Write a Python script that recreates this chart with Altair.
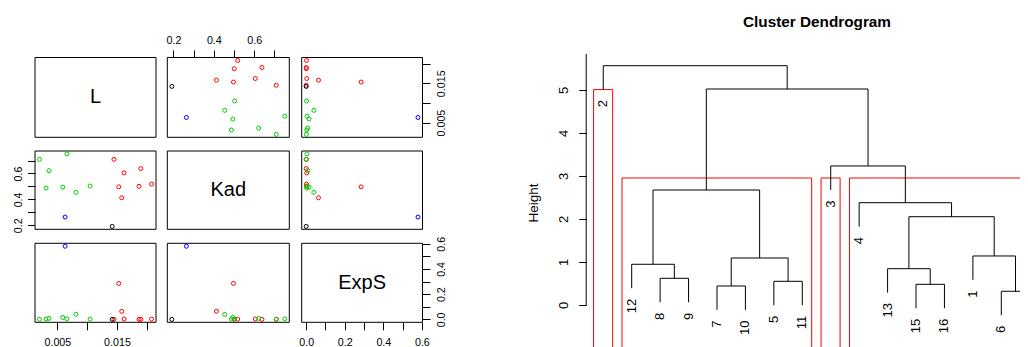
import json
import altair as alt
import pandas as pd

# ---------------- data: scatterplot matrix (pairs) ----------------
VARS = ["L", "Kad", "ExpS"]
group = [2, 2, 2, 2, 2, 2, 2, 1, 3, 3, 4, 3, 3, 3, 3, 3]
L_vals = [0.0208, 0.0187, 0.0190, 0.0158, 0.0153, 0.0162, 0.0145, 0.0142,
          0.0105, 0.0081, 0.0063, 0.0059, 0.0066, 0.0031, 0.0036, 0.0020]
Kad_vals = [0.518, 0.501, 0.638, 0.413, 0.497, 0.605, 0.709, 0.192,
            0.503, 0.454, 0.264, 0.494, 0.751, 0.487, 0.622, 0.709]
ExpS_vals = [0.002, 0.001, 0.000, 0.064, 0.285, 0.003, 0.000, 0.000,
             0.002, 0.040, 0.580, 0.015, 0.004, 0.003, 0.008, 0.001]
group_ids = [1, 2, 3, 4]
group_colors = ["#000000", "#FF0000", "#00CD00", "#0000FF"]

L_ticks = [0.005, 0.010, 0.015, 0.020]
L_labels = [0.005, 0.015]
Kad_ticks = [0.2, 0.3, 0.4, 0.5, 0.6, 0.7]
Kad_labels = [0.2, 0.4, 0.6]
ExpS_ticks = [0.0, 0.1, 0.2, 0.3, 0.4, 0.5, 0.6]
ExpS_labels = [0.0, 0.2, 0.4, 0.6]

# ---------------- data: dendrogram ----------------
leaf_order = [2, 12, 8, 9, 7, 10, 5, 11, 3, 4, 13, 15, 16, 1, 6, 14]
merge_a = [-6, -7, -15, -5, -8, -13, -12, 2, -1, 6, -4, 7, -3, 12, -2]
merge_b = [-14, -10, -16, -11, -9, 3, 5, 4, 1, 9, 10, 8, 11, 13, 14]
merge_h = [0.319, 0.442, 0.481, 0.551, 0.621, 0.844, 0.947, 1.093, 1.140,
           2.053, 2.379, 2.674, 3.233, 5.023, 5.565]
cluster_sizes = [1, 7, 1, 7]
cluster_rect_top = [5.01, 2.953, 2.953, 2.953]
height_ticks = [0, 1, 2, 3, 4, 5]

# ---------------- layout ----------------
W, H = 1012, 339
FONT = "Liberation Sans"
COL_PX = [(27.0, 148.0), (159.3, 281.3), (293.7, 414.5)]      # left, right
ROW_PX = [(49.5, 129.3), (143.0, 221.3), (235.3, 314.3)]      # top, bottom
DEN_XLIM = (0.4, 16.6)
DEN_X_PX = (578.2, 1038.8)
DEN_YLIM = (-1.235, 5.837)
DEN_Y_PX = (350.1, 46.0)
TICK = 7.5


def ext(v):
    lo, hi = min(v), max(v)
    r = hi - lo
    return [lo - 0.04 * r, hi + 0.04 * r]


DOM = {"L": ext(L_vals), "Kad": ext(Kad_vals), "ExpS": ext(ExpS_vals)}
TICKS = {"L": (L_ticks, L_labels, ".3f"),
         "Kad": (Kad_ticks, Kad_labels, ".1f"),
         "ExpS": (ExpS_ticks, ExpS_labels, ".1f")}

pts = pd.DataFrame({"L": L_vals, "Kad": Kad_vals, "ExpS": ExpS_vals, "grp": group})


def xs(var, j):
    return alt.Scale(domain=DOM[var], range=[COL_PX[j][0], COL_PX[j][1]], nice=False, zero=False)


def ys(var, i):
    return alt.Scale(domain=DOM[var], range=[ROW_PX[i][1], ROW_PX[i][0]], nice=False, zero=False)


def pair_axis(var, orient, offset):
    ticks, labs, fmt = TICKS[var]
    side = orient in ("left", "right")
    base = {"top": "bottom", "bottom": "top", "left": "bottom", "right": "top"}[orient]
    pad = {"top": 4.5, "bottom": 7.4, "left": 4.5, "right": 6.5}[orient]
    return alt.Axis(orient=orient, offset=offset, values=ticks, format=fmt,
                    labelExpr="indexof(%s, datum.value) >= 0 ? datum.label : ''" % json.dumps(labs),
                    domain=False, grid=False, ticks=True, tickSize=TICK, tickColor="black", tickWidth=1,
                    labelFont=FONT, labelFontSize=10.7, labelColor="black", labelPadding=pad,
                    labelAngle=270 if side else 0, labelAlign="center", labelBaseline=base,
                    labelFlush=False, labelOverlap=False, labelBound=False, title=None)


layers = []
for i, vy in enumerate(VARS):
    for j, vx in enumerate(VARS):
        fx, fy = DOM[vx], DOM[vy]
        frame_df = pd.DataFrame({"x0": [fx[0]], "x1": [fx[1]], "y0": [fy[0]], "y1": [fy[1]]})
        frame = alt.Chart(frame_df).mark_rect(fillOpacity=0, stroke="black", strokeWidth=1).encode(
            x=alt.X("x0:Q", scale=xs(vx, j), axis=None), x2="x1:Q",
            y=alt.Y("y0:Q", scale=ys(vy, i), axis=None), y2="y1:Q")
        layers.append(frame)

        xaxis, yaxis = None, None
        if i == 0 and j % 2 == 1:
            xaxis = pair_axis(vx, "top", -ROW_PX[0][0])
        if i == 2 and j % 2 == 0:
            xaxis = pair_axis(vx, "bottom", ROW_PX[2][1] - H)
        if j == 0 and i % 2 == 1:
            yaxis = pair_axis(vy, "left", -COL_PX[0][0])
        if j == 2 and i % 2 == 0:
            yaxis = pair_axis(vy, "right", COL_PX[2][1] - W)

        if i == j:
            lab_df = pd.DataFrame({"cx": [(fx[0] + fx[1]) / 2], "cy": [(fy[0] + fy[1]) / 2], "name": [vx]})
            content = alt.Chart(lab_df).mark_text(font=FONT, fontSize=20, color="black",
                                                  align="center", baseline="middle").encode(
                x=alt.X("cx:Q", scale=xs(vx, j), axis=xaxis),
                y=alt.Y("cy:Q", scale=ys(vy, i), axis=yaxis),
                text="name:N")
        else:
            content = alt.Chart(pts).mark_point(shape="circle", filled=False, size=16,
                                                strokeWidth=1, opacity=1).encode(
                x=alt.X(f"{vx}:Q", scale=xs(vx, j), axis=xaxis),
                y=alt.Y(f"{vy}:Q", scale=ys(vy, i), axis=yaxis),
                color=alt.Color("grp:N", scale=alt.Scale(domain=group_ids, range=group_colors), legend=None))
        layers.append(content)

# ---------------- dendrogram geometry from the merge table ----------------
xpos = {lab: k + 1 for k, lab in enumerate(leaf_order)}
hang = 0.1 * max(merge_h)
node_x, node_y, seg, leaf_rows = [], [], [], []
for a, b, h in zip(merge_a, merge_b, merge_h):
    ends = []
    for c in (a, b):
        if c < 0:
            lx, ly = xpos[-c], h - hang
            leaf_rows.append({"x": lx, "y": ly, "lab": str(-c)})
            ends.append((lx, ly))
        else:
            ends.append((node_x[c - 1], node_y[c - 1]))
    for cx, cy in ends:
        seg.append({"x": cx, "x2": cx, "y": cy, "y2": h})
    seg.append({"x": ends[0][0], "x2": ends[1][0], "y": h, "y2": h})
    node_x.append((ends[0][0] + ends[1][0]) / 2)
    node_y.append(h)

edges = [0]
for s in cluster_sizes:
    edges.append(edges[-1] + s)
rect_rows = [{"x": edges[k] + 0.66, "x2": edges[k + 1] + 0.33,
              "y": cluster_rect_top[k], "y2": DEN_YLIM[0]} for k in range(len(cluster_sizes))]
axis_line = pd.DataFrame({"x": [DEN_XLIM[0]], "y": [0], "y2": [DEN_YLIM[1]]})


def dxs():
    return alt.Scale(domain=list(DEN_XLIM), range=list(DEN_X_PX), nice=False, zero=False)


def dys():
    return alt.Scale(domain=list(DEN_YLIM), range=list(DEN_Y_PX), nice=False, zero=False)


den_xaxis = alt.Axis(orient="top", offset=0, domain=False, ticks=False, labels=False, grid=False,
                     title="Cluster Dendrogram", titleFont=FONT, titleFontSize=15.3,
                     titleFontWeight="bold", titleColor="black",
                     titleX=(DEN_X_PX[0] + DEN_X_PX[1]) / 2, titleY=18.2,
                     titleAlign="center", titleBaseline="alphabetic", titleAngle=0)
den_yaxis = alt.Axis(orient="left", offset=-DEN_X_PX[0], values=height_ticks, format="d",
                     domain=False, grid=False, tickSize=TICK, tickColor="black", tickWidth=1,
                     labelFont=FONT, labelFontSize=13, labelColor="black", labelAngle=270,
                     labelAlign="center", labelBaseline="bottom", labelPadding=8.2,
                     labelOverlap=False, labelFlush=False, labelBound=False,
                     title="Height", titleFont=FONT, titleFontSize=13.5, titleFontWeight="normal",
                     titleColor="black", titleAngle=270, titleAlign="center",
                     titleBaseline="bottom", titleX=-46, titleY=194.5)

den_seg = alt.Chart(pd.DataFrame(seg)).mark_rule(color="black", strokeWidth=1, clip=True).encode(
    x=alt.X("x:Q", scale=dxs(), axis=den_xaxis), x2="x2:Q",
    y=alt.Y("y:Q", scale=dys(), axis=den_yaxis), y2="y2:Q")
den_axis_line = alt.Chart(axis_line).mark_rule(color="black", strokeWidth=1).encode(
    x=alt.X("x:Q", scale=dxs(), axis=None),
    y=alt.Y("y:Q", scale=dys(), axis=None), y2="y2:Q")
den_rect = alt.Chart(pd.DataFrame(rect_rows)).mark_rect(fillOpacity=0, stroke="#FF0000",
                                                       strokeWidth=1, clip=True).encode(
    x=alt.X("x:Q", scale=dxs(), axis=None), x2="x2:Q",
    y=alt.Y("y:Q", scale=dys(), axis=None), y2="y2:Q")
den_lab = alt.Chart(pd.DataFrame(leaf_rows)).mark_text(font=FONT, fontSize=13, color="black",
                                                       angle=270, align="right", baseline="middle",
                                                       dx=-10.5, clip=True).encode(
    x=alt.X("x:Q", scale=dxs(), axis=None),
    y=alt.Y("y:Q", scale=dys(), axis=None),
    text="lab:N")

layers += [den_rect, den_seg, den_axis_line, den_lab]

chart = (alt.layer(*layers)
         .resolve_scale(x="independent", y="independent")
         .properties(width=W, height=H, padding=0, autosize=alt.AutoSizeParams(type="none"))
         .configure(font=FONT)
         .configure_view(stroke=None)
         .configure_axis(grid=False))

chart.save("out.html", embed_options={"renderer": "svg", "actions": False})
